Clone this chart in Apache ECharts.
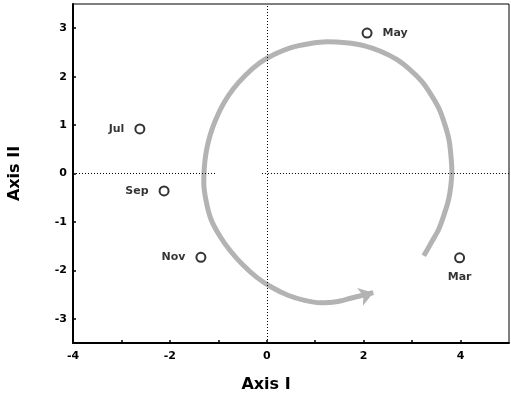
<!DOCTYPE html>
<html>
<head>
<meta charset="utf-8">
<script src="https://cdn.jsdelivr.net/npm/echarts@6/dist/echarts.min.js"></script>
<style>
  html, body { margin: 0; padding: 0; background: #fff; }
  #chart { width: 511px; height: 395px; }
</style>
</head>
<body>
<div id="chart"></div>
<script>
// month positions on the two axes
var months = ["May", "Mar", "Jul", "Sep", "Nov"];
var axisI = [2.07, 3.98, -2.62, -2.12, -1.36];
var axisII = [2.9, -1.74, 0.92, -0.36, -1.73];

// seasonal trajectory, start -> arrow end
var pathX = [3.24, 3.40, 3.55, 3.66, 3.75, 3.80, 3.82, 3.80, 3.76, 3.67, 3.55, 3.39, 3.20, 2.96, 2.69, 2.36, 2.00, 1.63, 1.25, 0.87, 0.50, 0.16, -0.15, -0.44, -0.69, -0.89, -1.05, -1.17, -1.25, -1.29, -1.30, -1.25, -1.15, -0.97, -0.75, -0.49, -0.20, 0.12, 0.45, 0.78, 1.10, 1.43, 1.75, 2.00, 2.20];
var pathY = [-1.70, -1.42, -1.15, -0.85, -0.55, -0.25, 0.05, 0.38, 0.70, 1.03, 1.35, 1.63, 1.90, 2.14, 2.35, 2.52, 2.64, 2.70, 2.72, 2.68, 2.60, 2.46, 2.28, 2.03, 1.75, 1.45, 1.12, 0.79, 0.45, 0.12, -0.20, -0.58, -0.95, -1.29, -1.60, -1.89, -2.15, -2.36, -2.52, -2.62, -2.67, -2.65, -2.57, -2.51, -2.46];

var xTicks = [-4, -3, -2, -1, 0, 1, 2, 3, 4];
var xLabels = [-4, -2, 0, 2, 4];
var yTicks = [-3, -2, -1, 0, 1, 2, 3];

var chart = echarts.init(document.getElementById("chart"));

var labelPos = { May: "right", Mar: "bottom", Jul: "left", Sep: "left", Nov: "left" };

var pointData = months.map(function (m, i) {
  return {
    name: m,
    value: [axisI[i], axisII[i]],
    label: { position: labelPos[m], distance: labelPos[m] === "bottom" ? 8 : 10 }
  };
});

var pathData = pathX.map(function (x, i) {
  var item = { value: [x, pathY[i]] };
  if (i === pathX.length - 1) {
    item.symbol = "arrow";
    item.symbolSize = [14, 14];
    item.symbolRotate = -72;
  }
  return item;
});

var font = "DejaVu Sans";

chart.setOption({
  animation: false,
  grid: {
    left: 73, right: 2, top: 4, bottom: 52,
    outerBoundsMode: "none",
    show: true, borderColor: "#000", borderWidth: 1
  },
  xAxis: {
    type: "value",
    min: -4,
    max: 5,
    name: "Axis I",
    nameLocation: "middle",
    nameGap: 34,
    nameTextStyle: { color: "#000", fontFamily: font, fontWeight: "bold", fontSize: 16, padding: [0, 50, 0, 0] },
    axisLine: { onZero: false, lineStyle: { color: "#000", width: 2 } },
    axisTick: { inside: true, length: 3, customValues: xTicks, lineStyle: { color: "#000", width: 1.5 } },
    axisLabel: {
      color: "#000",
      fontFamily: font,
      fontWeight: "bold",
      fontSize: 11,
      margin: 8,
      customValues: xLabels
    },
    splitLine: { show: false }
  },
  yAxis: {
    type: "value",
    min: -3.5,
    max: 3.5,
    name: "Axis II",
    nameLocation: "middle",
    nameGap: 45,
    nameTextStyle: { color: "#000", fontFamily: font, fontWeight: "bold", fontSize: 16, padding: [0, 0, 5, 0] },
    axisLine: { onZero: false, lineStyle: { color: "#000", width: 2 } },
    axisTick: { inside: true, length: 3, customValues: yTicks, lineStyle: { color: "#000", width: 1.5 } },
    axisLabel: {
      color: "#000",
      fontFamily: font,
      fontWeight: "bold",
      fontSize: 11,
      margin: 6,
      customValues: yTicks
    },
    splitLine: { show: false }
  },
  series: [
    {
      type: "line",
      data: pathData,
      smooth: 0.3,
      symbol: "circle",
      symbolSize: 0,
      itemStyle: { color: "#b3b3b3" },
      lineStyle: { color: "#b3b3b3", width: 5 },
      z: 2,
      markLine: {
        silent: true,
        symbol: "none",
        label: { show: false },
        lineStyle: { color: "#000", type: [1, 2], width: 1 },
        data: [
          [{ coord: [0, -3.5] }, { coord: [0, 3.5] }],
          [{ coord: [-4, 0] }, { coord: [-1.05, 0] }],
          [{ coord: [-0.1, 0] }, { coord: [5, 0] }]
        ]
      }
    },
    {
      type: "scatter",
      data: pointData,
      symbol: "emptyCircle",
      symbolSize: 9,
      itemStyle: { color: "#000", borderColor: "#000", borderWidth: 1.5 },
      label: {
        show: true,
        formatter: "{b}",
        color: "#000",
        fontFamily: font,
        fontWeight: "bold",
        fontSize: 11
      },
      z: 3
    }
  ]
});
</script>
</body>
</html>
